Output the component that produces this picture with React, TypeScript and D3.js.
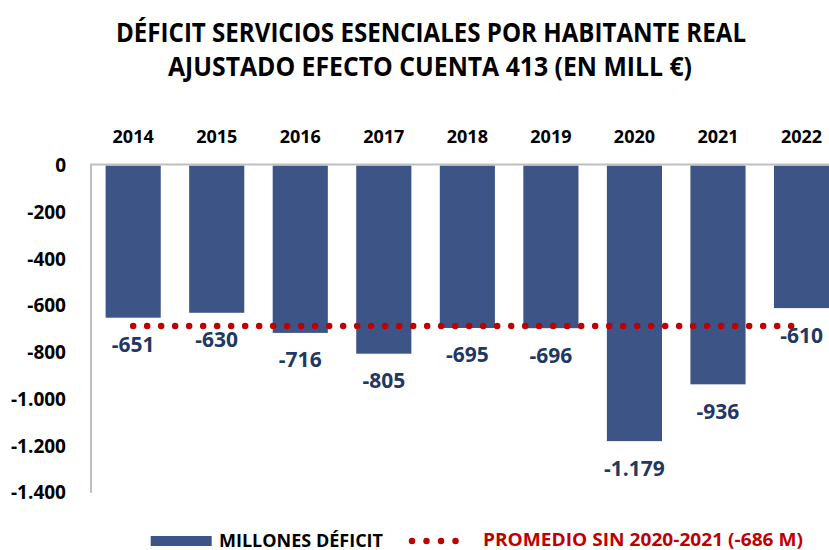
import React from "react";
import * as d3 from "d3";

const years = ["2014", "2015", "2016", "2017", "2018", "2019", "2020", "2021", "2022"];
const deficit = [-651, -630, -716, -805, -695, -696, -1179, -936, -610];
const average = -686;
const yTicks = [0, -200, -400, -600, -800, -1000, -1200, -1400];
const titleLines = [
  "DÉFICIT SERVICIOS ESENCIALES POR HABITANTE REAL",
  "AJUSTADO EFECTO CUENTA 413 (EN MILL €)",
];
const legendBar = "MILLONES DÉFICIT";
const legendAvg = "PROMEDIO SIN 2020-2021 (-686 M)";

const W = 829;
const H = 550;
const FONT = "'Open Sans', 'Noto Sans', sans-serif";
const BAR = "#3C5486";
const LABEL = "#1F3864";
const RED = "#C00000";
const AXIS = "#BFBFBF";

const locale = d3.formatLocale({ decimal: ",", thousands: ".", grouping: [3], currency: ["", "€"], minus: "-" });
const fmt = locale.format(",d");

export default function App() {
  const x = d3.scaleBand<string>().domain(years).range([91.4, 843.3]).paddingInner(0.34).paddingOuter(0.17);
  const y = d3.scaleLinear().domain([0, -1400]).range([165.5, 492.8]);
  const bw = x.bandwidth();
  const cx = (yr: string) => (x(yr) as number) + bw / 2;

  return (
    <svg width={W} height={H} style={{ position: "absolute", left: 0, top: 0, background: "#fff" }} fontFamily={FONT}>
      <rect width={W} height={H} fill="#fff" />
      {/* title */}
      <text x={431} y={42} textAnchor="middle" fontSize={27} fontWeight={700} fill="#000" textLength={630} lengthAdjust="spacingAndGlyphs">
        {titleLines[0]}
      </text>
      <text x={430} y={75.5} textAnchor="middle" fontSize={27} fontWeight={700} fill="#000" textLength={524} lengthAdjust="spacingAndGlyphs">
        {titleLines[1]}
      </text>

      {/* category labels on top */}
      {years.map((yr) => (
        <text key={yr} x={cx(yr)} y={143} textAnchor="middle" fontSize={18} fontWeight={700} fill="#000">
          {yr}
        </text>
      ))}

      {/* y tick labels */}
      {yTicks.map((t) => (
        <text key={t} x={66} y={y(t) + 6.5} textAnchor="end" fontSize={19} fontWeight={700} fill="#000">
          {fmt(t)}
        </text>
      ))}

      {/* bars */}
      {years.map((yr, i) => (
        <rect key={yr} x={x(yr)} y={y(0)} width={bw} height={y(deficit[i]) - y(0)} fill={BAR} />
      ))}

      {/* axes */}
      <line x1={91} x2={91} y1={164.5} y2={y(-1400)} stroke={AXIS} strokeWidth={2} />
      <line x1={90} x2={W} y1={164.5} y2={164.5} stroke={AXIS} strokeWidth={2} />

      {/* average dotted line */}
      <line
        x1={cx(years[0])}
        x2={cx(years[years.length - 1])}
        y1={y(average)}
        y2={y(average)}
        stroke={RED}
        strokeWidth={6.5}
        strokeLinecap="round"
        strokeDasharray="0 14"
      />

      {/* value labels */}
      {years.map((yr, i) => (
        <text key={yr} x={cx(yr)} y={y(deficit[i]) + 34.5} textAnchor="middle" fontSize={21} fontWeight={700} fill={LABEL}>
          {fmt(deficit[i])}
        </text>
      ))}

      {/* legend */}
      <rect x={150.7} y={536} width={61} height={10} fill={BAR} />
      <text x={219} y={546.5} fontSize={18} fontWeight={700} fill="#000" textLength={164} lengthAdjust="spacingAndGlyphs">
        {legendBar}
      </text>
      <line x1={412} x2={470} y1={541} y2={541} stroke={RED} strokeWidth={6.5} strokeLinecap="round" strokeDasharray="0 14.5" />
      <text x={483} y={546} fontSize={18} fontWeight={700} fill={RED} textLength={320} lengthAdjust="spacingAndGlyphs">
        {legendAvg}
      </text>
    </svg>
  );
}
